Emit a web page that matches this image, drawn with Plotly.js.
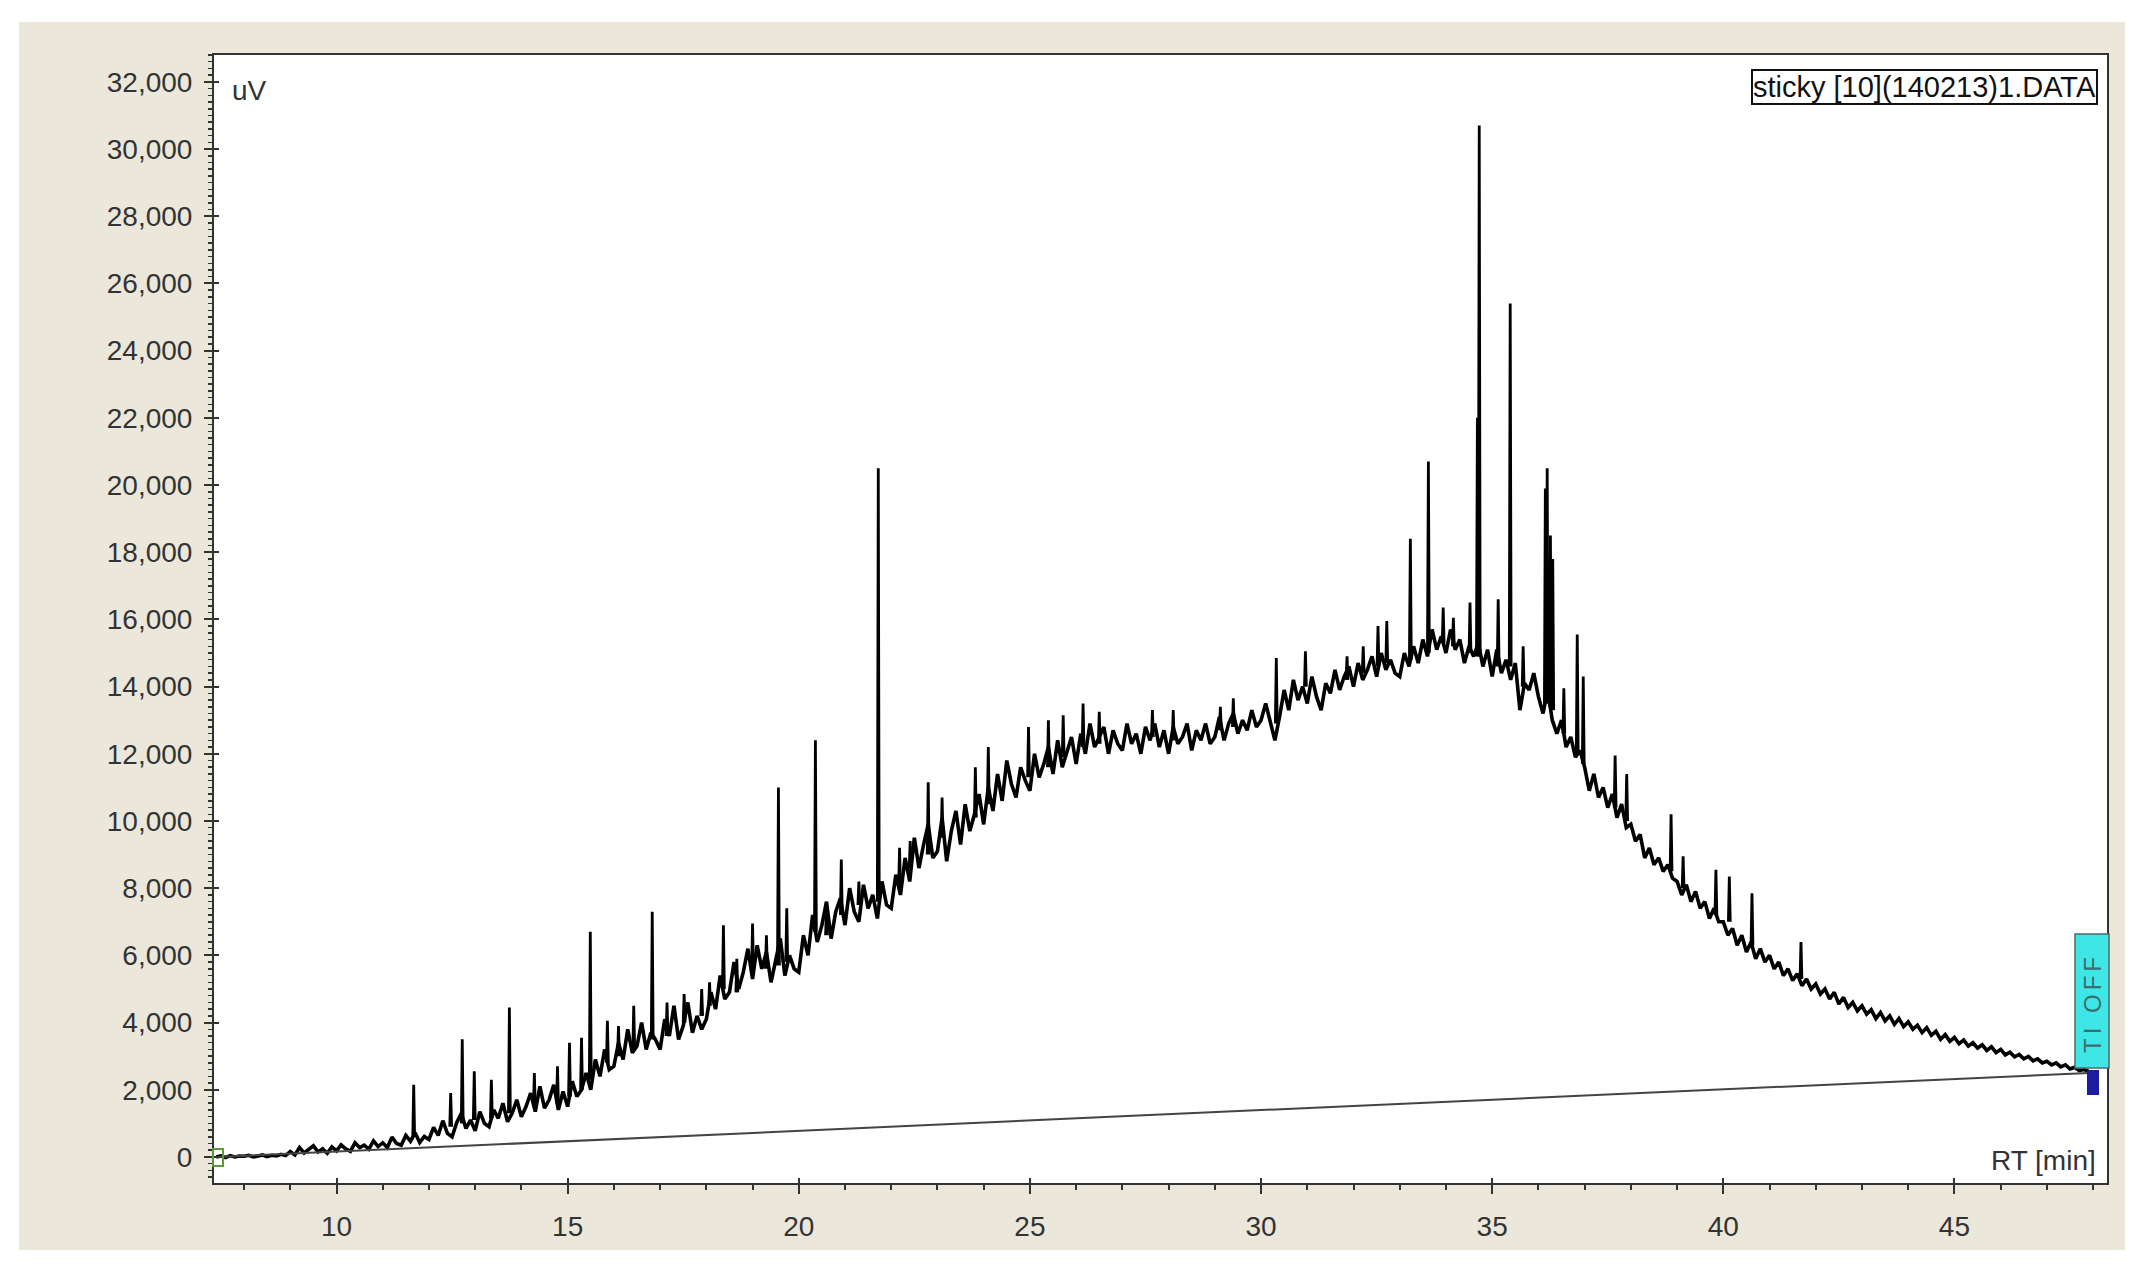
<!DOCTYPE html>
<html>
<head>
<meta charset="utf-8">
<script src="https://cdn.plot.ly/plotly-3.0.1.min.js"></script>
<style>
  html, body { margin: 0; padding: 0; background: #ffffff; }
  #chart { width: 2142px; height: 1277px; }
</style>
</head>
<body>
<div id="chart"></div>
<script>
// ---------------- DATA ----------------
// Detector trace (uV) sampled every 0.1 min, starting at 7.4 min
const traceStartRT = 7.4;
const traceStepRT = 0.1;

const signal07to17 = [
  0, 30, -20, 40, 0, 30,                                      // 7.4 - 7.9
  20, 50, 0, 40, 60, 10, 50, 30, 80, 40,                      // 8
  160, 60, 280, 120, 220, 330, 150, 240, 110, 300,            // 9
  180, 360, 240, 170, 420, 280, 350, 230, 480, 310,           // 10
  420, 280, 590, 400, 350, 640, 470, 720, 430, 610,           // 11
  520, 880, 640, 1080, 700, 600, 1020, 1300, 850, 1100,       // 12
  780, 1350, 1000, 900, 1400, 1150, 1600, 1050, 1300, 1700,   // 13
  1200, 1500, 1900, 1350, 2100, 1450, 1700, 2150, 1400, 1950, // 14
  1500, 2250, 1800, 2000, 2500, 2000, 2900, 2400, 3200, 2600, // 15
  2700, 3400, 2900, 3800, 3100, 3300, 4000, 3200, 3700, 3500, // 16
  3200, 4100, 3600, 4500, 3500, 3900, 4600, 3700, 4200, 3800  // 17
];
const signal18to27 = [
  4100, 4900, 4400, 5400, 4700, 4900, 5800, 5000, 5500, 6200,          // 18
  5300, 6300, 5600, 6100, 5200, 5800, 6500, 5400, 6000, 5600,          // 19
  5500, 6600, 6000, 7200, 6400, 6900, 7600, 6500, 7300, 7700,          // 20
  6900, 8000, 7300, 7000, 8100, 7400, 7800, 7100, 8200, 7500,          // 21
  7400, 8400, 7800, 8900, 8200, 9500, 8600, 9300, 9900, 8900,          // 22
  9100, 10100, 8800, 9700, 10300, 9300, 10500, 9700, 10200, 10800,     // 23
  9900, 11000, 10300, 11400, 10600, 11800, 11100, 10700, 11600, 11200, // 24
  10900, 12000, 11300, 11700, 12200, 11400, 12400, 11600, 12100, 12500, // 25
  11700, 12600, 12000, 12900, 12200, 12500, 12800, 12000, 12700, 12300, // 26
  12100, 12900, 12300, 12600, 12000, 12800, 12400, 12900, 12200, 12700  // 27
];
const signal28to37 = [
  12000, 12800, 12300, 12500, 12900, 12100, 12700, 12400, 12900, 12300, // 28
  12500, 13100, 12400, 12900, 13200, 12600, 13000, 12700, 13300, 12800, // 29
  13000, 13500, 12900, 12400, 13100, 13900, 13300, 14200, 13600, 14000, // 30
  13500, 14300, 13700, 13300, 14100, 13800, 14500, 13900, 14300, 14600, // 31
  14000, 14700, 14200, 14500, 14900, 14300, 15000, 14500, 14800, 14400, // 32
  14300, 15000, 14600, 15200, 14700, 15400, 14900, 15700, 15100, 15500, // 33
  15000, 15700, 15100, 15400, 14700, 15200, 14900, 15300, 14600, 15100, // 34
  14300, 15100, 14400, 14800, 14200, 14700, 13300, 14100, 13900, 14400, // 35
  13700, 13200, 13900, 13000, 12600, 13000, 12200, 12500, 11900, 12100, // 36
  11600, 10900, 11400, 10700, 11000, 10400, 10800, 10100, 10500, 9800   // 37
];
const signal38to47 = [
  9900, 9400, 9600, 8900, 9200, 8700, 8900, 8500, 8700, 8300,  // 38
  8200, 7800, 8100, 7600, 7900, 7400, 7600, 7100, 7400, 7000,  // 39
  7000, 6600, 6800, 6300, 6600, 6100, 6400, 5900, 6200, 5800,  // 40
  6000, 5600, 5800, 5400, 5600, 5250, 5450, 5100, 5300, 5000,  // 41
  5150, 4850, 5000, 4700, 4900, 4550, 4750, 4450, 4600, 4350,  // 42
  4500, 4250, 4380, 4120, 4300, 4050, 4200, 3950, 4120, 3880,  // 43
  4020, 3800, 3920, 3700, 3850, 3620, 3740, 3500, 3640, 3440,  // 44
  3560, 3370, 3480, 3300, 3400, 3240, 3340, 3170, 3280, 3110,  // 45
  3200, 3040, 3120, 2980, 3050, 2920, 2990, 2860, 2920, 2800,  // 46
  2850, 2740, 2800, 2680, 2740, 2620, 2670, 2570, 2600, 2550   // 47
];

// Sharp peaks: retention time (min), apex (uV), local trace level (uV)
const peakRT = [11.67, 12.47, 12.72, 12.98, 13.35, 13.74, 14.28, 14.78, 15.04, 15.30,
  15.49, 15.86, 16.10, 16.43, 16.83, 17.15, 17.52, 17.90, 18.07, 18.37,
  18.66, 19.00, 19.30, 19.56, 19.74, 20.36, 20.60, 20.92, 21.30, 21.72,
  22.18, 22.41, 22.80, 23.10, 23.82, 24.10, 24.97, 25.40, 25.72, 26.15,
  26.50, 27.65, 28.10, 29.12, 29.40, 30.33, 30.96, 31.86, 32.21, 32.53,
  32.72, 33.23, 33.62, 33.94, 34.16, 34.52, 34.68, 34.72, 35.13, 35.39,
  35.67, 36.15, 36.19, 36.26, 36.31, 36.55, 36.84, 36.97, 37.66, 37.91,
  38.87, 39.13, 39.84, 40.13, 40.62, 41.68];
const peakTop = [2150, 1900, 3500, 2550, 2300, 4450, 2500, 2700, 3400, 3550,
  6700, 4050, 3900, 4500, 7300, 4600, 4850, 5000, 5200, 6900,
  5900, 6950, 6600, 11000, 7400, 12400, 7400, 8850, 8200, 20500,
  9200, 9400, 11150, 10700, 11600, 12200, 12800, 13000, 13150, 13500,
  13250, 13300, 13300, 13400, 13650, 14850, 15050, 14900, 15200, 15800,
  15950, 18400, 20700, 16350, 16050, 16500, 22000, 30700, 16600, 25400,
  15200, 19900, 20500, 18500, 17800, 13950, 15550, 14300, 11950, 11400,
  10200, 8950, 8550, 8350, 7850, 6400];
const peakBase = [600, 900, 1000, 1100, 1150, 1300, 1500, 1600, 1800, 2000,
  2300, 2800, 3000, 3200, 3500, 3600, 4000, 4200, 4500, 5000,
  4900, 5600, 5600, 5700, 5800, 6700, 6600, 7200, 7500, 7600,
  8000, 8600, 9000, 9500, 10100, 10500, 11300, 11600, 11900, 12200,
  12300, 12500, 12400, 12700, 12800, 12900, 14000, 14200, 14400, 14600,
  14700, 14800, 15000, 15300, 15200, 15000, 14900, 14900, 14600, 14600,
  14000, 13500, 13500, 13400, 13300, 12600, 12000, 11700, 10400, 10000,
  8500, 8000, 7200, 7000, 6300, 5300];

// Drawn baseline (start / end)
const baselineRT = [7.4, 47.9];
const baselineUV = [0, 2500];

// Axis ticks / labels
const xTickVals = [10, 15, 20, 25, 30, 35, 40, 45];
const yTickStep = 2000;
const legendLabel = 'sticky [10](140213)1.DATA';
const yUnitLabel = 'uV';
const xUnitLabel = 'RT [min]';
const eventLabel = 'TI OFF';

// ---------------- BUILD ----------------
const signal = signal07to17.concat(signal18to27, signal28to37, signal38to47);

const spikeX = [], spikeY = [];
const halfW = 0.02;
for (let i = 0; i < peakRT.length; i++) {
  spikeX.push(peakRT[i] - halfW, peakRT[i], peakRT[i] + halfW, null);
  spikeY.push(peakBase[i], peakTop[i], peakBase[i], null);
}

const L = 214, R = 2107, T = 55, B = 1183;
const W = R - L, H = B - T;
const px = x => (x - L) / W;
const py = y => (B - y) / H;

const FONT = 'Liberation Sans, Arial, Helvetica, sans-serif';
const INK = '#333333';

const traces = [
  {
    type: 'scatter', mode: 'lines',
    x0: traceStartRT, dx: traceStepRT, y: signal,
    line: { color: '#000000', width: 3.6 },
    hoverinfo: 'skip', showlegend: false
  },
  {
    type: 'scatter', mode: 'lines',
    x: spikeX, y: spikeY, connectgaps: false,
    line: { color: '#000000', width: 2.8 },
    hoverinfo: 'skip', showlegend: false
  },
  {
    type: 'scatter', mode: 'lines',
    x: baselineRT, y: baselineUV,
    line: { color: '#444444', width: 2 },
    hoverinfo: 'skip', showlegend: false
  },
  {
    type: 'scatter', mode: 'lines', x: [], y: [],
    xaxis: 'x2', yaxis: 'y2', showlegend: false, hoverinfo: 'skip'
  }
];

const xr = [7.35, 48.3];
const yr = [-775, 32800];

const layout = {
  width: 2142, height: 1277,
  margin: { l: L, r: 2142 - R, t: T, b: 1277 - B, pad: 0 },
  paper_bgcolor: '#ebe8db',
  plot_bgcolor: '#ffffff',
  showlegend: false,
  hovermode: false,
  font: { family: FONT, size: 28, color: INK },
  xaxis: {
    range: xr, tickmode: 'array', tickvals: xTickVals,
    ticks: 'outside', ticklen: 9, tickwidth: 2, tickcolor: INK,
    showline: true, linecolor: INK, linewidth: 2, mirror: true,
    showgrid: false, zeroline: false,
    tickfont: { family: FONT, size: 28, color: INK },
    ticklabelstandoff: 8,
    minor: { tick0: 0, dtick: 1, ticks: 'outside', ticklen: 5, tickwidth: 2, tickcolor: INK, showgrid: false }
  },
  yaxis: {
    range: yr, tick0: 0, dtick: yTickStep, tickformat: ',d',
    ticks: 'outside', ticklen: 8, tickwidth: 2, tickcolor: INK,
    showline: true, linecolor: INK, linewidth: 2, mirror: true,
    showgrid: false, zeroline: false,
    tickfont: { family: FONT, size: 28, color: INK },
    ticklabelstandoff: 6,
    minor: { tick0: 0, dtick: 200, ticks: 'outside', ticklen: 4, tickwidth: 1.5, tickcolor: INK, showgrid: false }
  },
  xaxis2: {
    overlaying: 'x', anchor: 'y2', side: 'bottom', range: xr,
    tickmode: 'array', tickvals: xTickVals,
    ticks: 'inside', ticklen: 5, tickwidth: 2, tickcolor: INK,
    showticklabels: false, showline: false, showgrid: false, zeroline: false
  },
  yaxis2: {
    overlaying: 'y', anchor: 'x2', side: 'left', range: yr,
    tick0: 0, dtick: yTickStep,
    ticks: 'inside', ticklen: 5, tickwidth: 2, tickcolor: INK,
    showticklabels: false, showline: false, showgrid: false, zeroline: false
  },
  shapes: [
    // white surround outside the window panel
    { type: 'rect', xref: 'paper', yref: 'paper', x0: px(0), x1: px(2142), y0: py(0), y1: py(22), fillcolor: '#ffffff', line: { width: 0 }, layer: 'below' },
    { type: 'rect', xref: 'paper', yref: 'paper', x0: px(0), x1: px(19), y0: py(0), y1: py(1277), fillcolor: '#ffffff', line: { width: 0 }, layer: 'below' },
    { type: 'rect', xref: 'paper', yref: 'paper', x0: px(2125), x1: px(2142), y0: py(0), y1: py(1277), fillcolor: '#ffffff', line: { width: 0 }, layer: 'below' },
    { type: 'rect', xref: 'paper', yref: 'paper', x0: px(0), x1: px(2142), y0: py(1250), y1: py(1277), fillcolor: '#ffffff', line: { width: 0 }, layer: 'below' },
    // TI OFF event box
    { type: 'rect', xref: 'paper', yref: 'paper', x0: px(2075), x1: px(2109), y0: py(934), y1: py(1068), fillcolor: '#3fe6e6', line: { color: '#4d6b6b', width: 1.5 } },
    // event marker
    { type: 'rect', xref: 'paper', yref: 'paper', x0: px(2087), x1: px(2099), y0: py(1070), y1: py(1095), fillcolor: '#1c1c9e', line: { width: 0 } },
    // start marker
    { type: 'rect', xref: 'paper', yref: 'paper', x0: px(213), x1: px(223), y0: py(1149), y1: py(1166), fillcolor: 'rgba(0,0,0,0)', line: { color: '#5a9a3a', width: 2 } }
  ],
  annotations: [
    { xref: 'paper', yref: 'paper', x: px(230), y: py(90), xanchor: 'left', yanchor: 'middle',
      text: yUnitLabel, showarrow: false, font: { family: FONT, size: 28, color: INK } },
    { xref: 'paper', yref: 'paper', x: px(2098), y: py(1160), xanchor: 'right', yanchor: 'middle',
      text: xUnitLabel, showarrow: false, font: { family: FONT, size: 28, color: INK } },
    { xref: 'paper', yref: 'paper', x: px(2098), y: py(87), xanchor: 'right', yanchor: 'middle',
      text: legendLabel, showarrow: false, bgcolor: '#ffffff', bordercolor: '#111111', borderwidth: 2, borderpad: 0,
      font: { family: FONT, size: 29, color: '#111111' } },
    { xref: 'paper', yref: 'paper', x: px(2092), y: py(1003), xanchor: 'center', yanchor: 'middle',
      text: '<span style="letter-spacing:4px">' + eventLabel + '</span>', textangle: -90, showarrow: false,
      font: { family: FONT, size: 24, color: '#3a6f70' } }
  ]
};

Plotly.newPlot('chart', traces, layout, { displayModeBar: false, staticPlot: true });
</script>
</body>
</html>
